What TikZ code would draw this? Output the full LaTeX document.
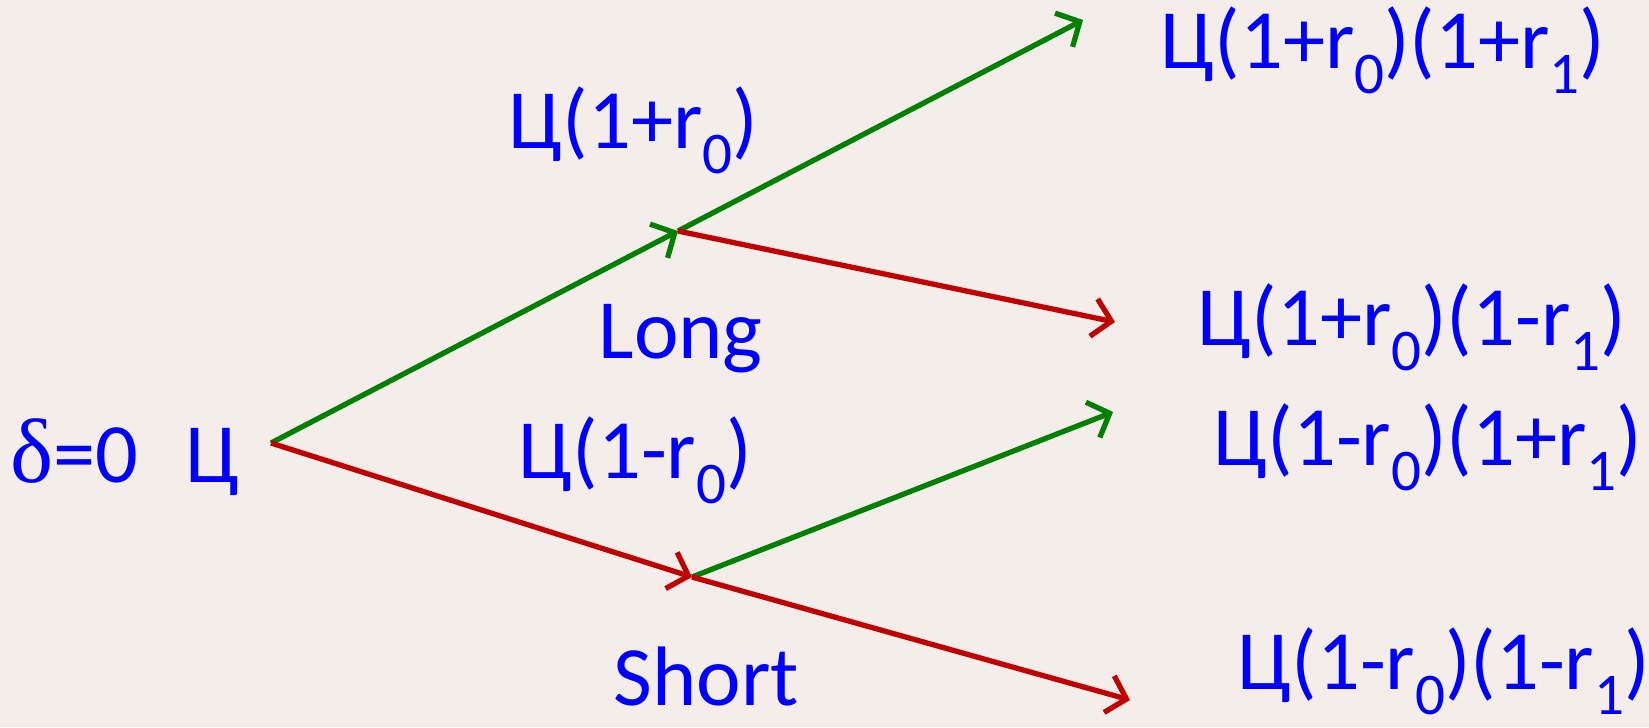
\documentclass[tikz,border=0pt]{standalone}
\usepackage{fontspec}
\setmainfont{Carlito}
\newfontfamily\grkfont{Liberation Serif}
\usepackage{xcolor}
\usetikzlibrary{arrows.meta}
\definecolor{trbg}{HTML}{F4EDEA}
\definecolor{trblue}{HTML}{0000FF}
\definecolor{trgreen}{HTML}{008000}
\definecolor{trred}{HTML}{C00000}
\newcommand{\lowsub}[1]{\raisebox{-0.3em}{\fontsize{16.8}{17}\selectfont #1}}

\begin{document}
\begin{tikzpicture}[
  x=0.01cm,y=-0.01cm,
  every node/.style={font=\fontsize{24}{28}\selectfont,text=trblue,inner sep=0pt},
  lbl/.style={anchor=base west},
  arrow/.style={-{Straight Barb[length=1.8mm,width=3.8mm]},line width=1.5pt},
  gain/.style={arrow,color=trgreen},
  loss/.style={arrow,color=trred}
]
\fill[trbg] (0,0) rectangle (1649,727);
\useasboundingbox (0,0) rectangle (1649,727);
% branching points
\coordinate (root) at (271,443);
\coordinate (up) at (678,231);
\coordinate (dn) at (692,577);
\coordinate (uu) at (1083,20);
\coordinate (ud) at (1115,322);
\coordinate (du) at (1113,412);
\coordinate (dd) at (1130,700);
% labels
\node[lbl] (delta) at (10,482) {{\grkfont\fontsize{26}{28}\selectfont δ}=0};
\node[lbl] (ts) at (185,482) {Ц};
\node[lbl] (p0) at (508,148) {Ц(1+r\lowsub{0})};
\node[lbl] (long) at (598,358) {Long};
\node[lbl] (m0) at (518,478) {Ц(1-r\lowsub{0})};
\node[lbl] (short) at (613,705) {Short};
\node[lbl] (pp) at (1160,68) {Ц(1+r\lowsub{0})(1+r\lowsub{1})};
\node[lbl] (pm) at (1197,345) {Ц(1+r\lowsub{0})(1-r\lowsub{1})};
\node[lbl] (mp) at (1213,465) {Ц(1-r\lowsub{0})(1+r\lowsub{1})};
\node[lbl] (mm) at (1237,689) {Ц(1-r\lowsub{0})(1-r\lowsub{1})};
% tree
\draw[gain] (root) -- (up);
\draw[loss] (root) -- (dn);
\draw[gain] (up) -- (uu);
\draw[loss] (up) -- (ud);
\draw[gain] (dn) -- (du);
\draw[loss] (dn) -- (dd);
\end{tikzpicture}
\end{document}
